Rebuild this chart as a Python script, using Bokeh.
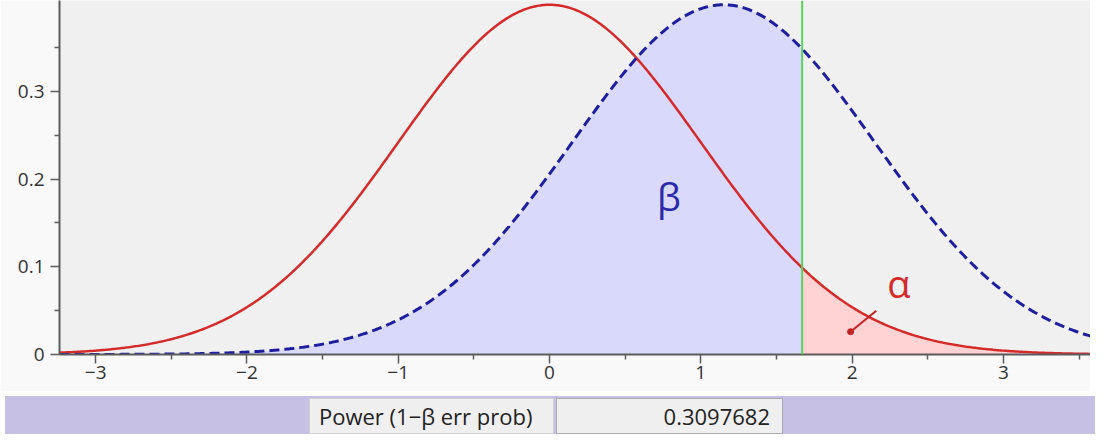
import numpy as np
from bokeh.plotting import figure
from bokeh.layouts import column
from bokeh.models import Div, FixedTicker, Span, Label
from bokeh.embed import file_html
from bokeh.resources import INLINE

# ---- data ----
null_mean = 0.0          # red solid curve (H0)
null_sd = 1.0
alt_mean = 1.15          # blue dashed curve (H1)
alt_sd = 1.0
critical = 1.67          # green line
power_label = "Power (1−β err prob)"
power_value = "0.3097682"
x_ticks = [-3, -2, -1, 0, 1, 2, 3]
x_tick_labels = ["−3", "−2", "−1", "0", "1", "2", "3"]
x_minor = [-3.5, -2.5, -1.5, -0.5, 0.5, 1.5, 2.5, 3.5]
y_ticks = [0, 0.1, 0.2, 0.3]
y_tick_labels = ["0", "0.1", "0.2", "0.3"]
y_minor = [0.05, 0.15, 0.25, 0.35]
beta_pos = (0.79, 0.181)
alpha_pos = (2.31, 0.082)
alpha_pointer = (2.16, 0.050, 1.99, 0.026)

X0, X1 = -3.239, 3.576
Y0, Y1 = 0.0, 0.4038

def pdf(x, m, s):
    return np.exp(-0.5 * ((x - m) / s) ** 2) / (s * np.sqrt(2 * np.pi))

xs = np.linspace(X0, X1, 700)
red = pdf(xs, null_mean, null_sd)
blue = pdf(xs, alt_mean, alt_sd)
left = xs <= critical
right = xs >= critical
xl = np.append(xs[left], critical)
xr = np.insert(xs[right], 0, critical)

p = figure(width=1090, height=391, x_range=(X0, X1), y_range=(Y0, Y1),
           output_backend="svg", toolbar_location=None,
           min_border_left=59, min_border_right=0, min_border_top=0, min_border_bottom=37)
p.background_fill_color = "#f0f0f0"
p.border_fill_color = "#f9f9f9"
p.outline_line_color = None
p.xgrid.visible = False
p.ygrid.visible = False

p.varea(x=xl, y1=0, y2=pdf(xl, alt_mean, alt_sd), fill_color="#d9d9fb")
p.varea(x=xr, y1=0, y2=pdf(xr, null_mean, null_sd), fill_color="#ffd3d3")
p.add_layout(Span(location=critical, dimension="height", line_color="#5ad35a", line_width=2))
p.line(xs, red, line_color="#d42a2a", line_width=2.5)
p.line(xs, blue, line_color="#1e1e9e", line_width=3, line_dash="10 5")

p.segment(x0=[alpha_pointer[0]], y0=[alpha_pointer[1]], x1=[alpha_pointer[2]], y1=[alpha_pointer[3]],
          line_color="#c42222", line_width=2)
p.scatter(x=[alpha_pointer[2]], y=[alpha_pointer[3]], size=6, color="#c42222")

p.add_layout(Label(x=beta_pos[0], y=beta_pos[1], text="β", text_color="#2a2aa8",
                   text_font="Open Sans", text_font_size="38px",
                   text_align="center", text_baseline="middle"))
p.add_layout(Label(x=alpha_pos[0], y=alpha_pos[1], text="α", text_color="#d42a2a",
                   text_font="Open Sans", text_font_size="38px",
                   text_align="center", text_baseline="middle"))

for ax in (p.xaxis[0], p.yaxis[0]):
    ax.axis_line_color = "#5c5c5c"
    ax.axis_line_width = 2
    ax.major_tick_line_color = "#5c5c5c"
    ax.minor_tick_line_color = "#5c5c5c"
    ax.major_tick_line_width = 1.5
    ax.minor_tick_line_width = 1.5
    ax.major_tick_in = 0
    ax.minor_tick_in = 0
    ax.minor_tick_out = 5
    ax.major_label_text_font = "Open Sans"
    ax.major_label_text_font_size = "19px"
    ax.major_label_text_color = "#333333"

p.xaxis.ticker = FixedTicker(ticks=x_ticks, minor_ticks=x_minor)
p.xaxis.major_label_overrides = dict(zip(x_ticks, x_tick_labels))
p.xaxis.major_tick_out = 9
p.xaxis.major_label_standoff = 2
p.yaxis.ticker = FixedTicker(ticks=y_ticks, minor_ticks=y_minor)
p.yaxis.major_label_overrides = dict(zip(y_ticks, y_tick_labels))
p.yaxis.major_tick_out = 9
p.yaxis.major_label_standoff = 6

bar_html = (
    '<div style="position:relative;width:1090px;height:38px;overflow:hidden;'
    'font-family:\'Open Sans\';font-size:22px;color:#222;">'
    '<div style="position:absolute;left:304px;top:2px;width:245px;height:36px;background:#efefef;'
    'border:1px solid #d0d0d0;box-sizing:border-box;line-height:34px;padding-left:9px;white-space:nowrap;">'
    + power_label + '</div>'
    '<div style="position:absolute;left:551px;top:2px;width:227px;height:36px;background:#efefef;'
    'border:1px solid #aaaaaa;box-sizing:border-box;line-height:34px;text-align:right;padding-right:12px;white-space:nowrap;">'
    + power_value + '</div></div>'
)
bar = Div(text=bar_html, width=1090, height=38,
          styles={"background-color": "#c6c0e4", "overflow": "hidden"})

layout = column(p, bar, spacing=0)
open("out.html", "w").write(file_html(layout, INLINE))
